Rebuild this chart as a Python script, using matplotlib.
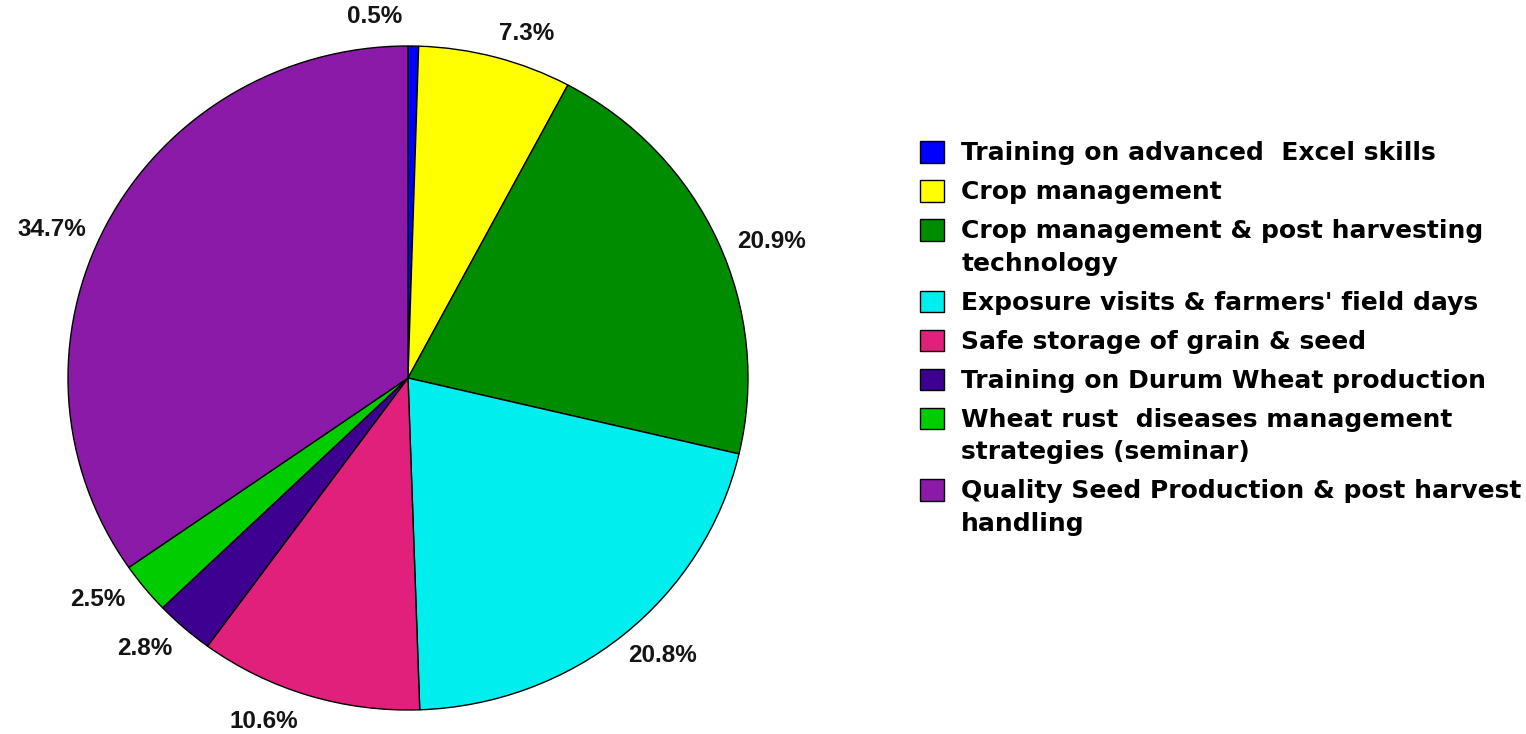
import numpy as np
import matplotlib.pyplot as plt

plt.rcParams['font.family'] = ['Liberation Sans', 'DejaVu Sans']
plt.rcParams['font.weight'] = 'bold'

categories = [
    "Training on advanced  Excel skills",
    "Crop management",
    "Crop management & post harvesting\ntechnology",
    "Exposure visits & farmers' field days",
    "Safe storage of grain & seed",
    "Training on Durum Wheat production",
    "Wheat rust  diseases management\nstrategies (seminar)",
    "Quality Seed Production & post harvest\nhandling",
]
shares = [0.5, 7.3, 20.9, 20.8, 10.6, 2.8, 2.5, 34.7]
colors = ['#0000FF', '#FFFF00', '#008C00', '#00EEEE',
          '#E0207A', '#3D0090', '#00CC00', '#8B1AA8']
# small angular shifts (deg) so labels spread apart like Excel's layout
label_nudge = [6.0, -3.5, -2.8, 3.0, -5.5, -2.8, -3.7, 4.0]

W, H = 1526, 734
fig = plt.figure(figsize=(W / 100, H / 100), dpi=100)
# the reference pie is a touch wider than tall
RX, RY = 340, 332
CX, CY = 408, 378
ax = fig.add_axes([(CX - RX) / W, (H - CY - RY) / H, 2 * RX / W, 2 * RY / H])

wedges, _ = ax.pie(shares, colors=colors, startangle=90, counterclock=False,
                   wedgeprops=dict(edgecolor='black', linewidth=1))
ax.set_xlim(-1, 1)
ax.set_ylim(-1, 1)
ax.set_aspect('auto')
ax.axis('off')

# percent labels just outside the rim, pushed out by half the text box
renderer = fig.canvas.get_renderer()
gap = 26
total = sum(shares)
for w, v, nd in zip(wedges, shares, label_nudge):
    ang = np.deg2rad((w.theta1 + w.theta2) / 2 + nd)
    c, s = np.cos(ang), np.sin(ang)
    t = ax.text(0, 0, f"{100 * v / total:.1f}%", fontsize=17.5, fontweight='bold',
                color='#141414', ha='center', va='center')
    bb = t.get_window_extent(renderer)
    hw, hh = bb.width / 2, 9
    push = min(hw / max(abs(c), 1e-6), hh / max(abs(s), 1e-6))
    px = RX * c + (gap + push) * c
    py = RY * s + (gap + push) * s
    t.set_position((px / RX, (py - 4) / RY))

leg = fig.legend(wedges, categories, loc='upper left',
                 bbox_to_anchor=(920 / W, 1 - 141 / H),
                 frameon=False, prop=dict(family='DejaVu Sans', weight='bold', size=18),
                 handlelength=0.95, handleheight=0.95, handletextpad=0.7,
                 labelspacing=0.60, borderpad=0, borderaxespad=0)
for t in leg.get_texts():
    t.set_linespacing(1.45)
# keep the swatch beside the first line of wrapped labels
for col in leg._legend_handle_box.get_children():
    for row in col.get_children():
        row.align = 'top'

fig.savefig('out.png', dpi=100)
